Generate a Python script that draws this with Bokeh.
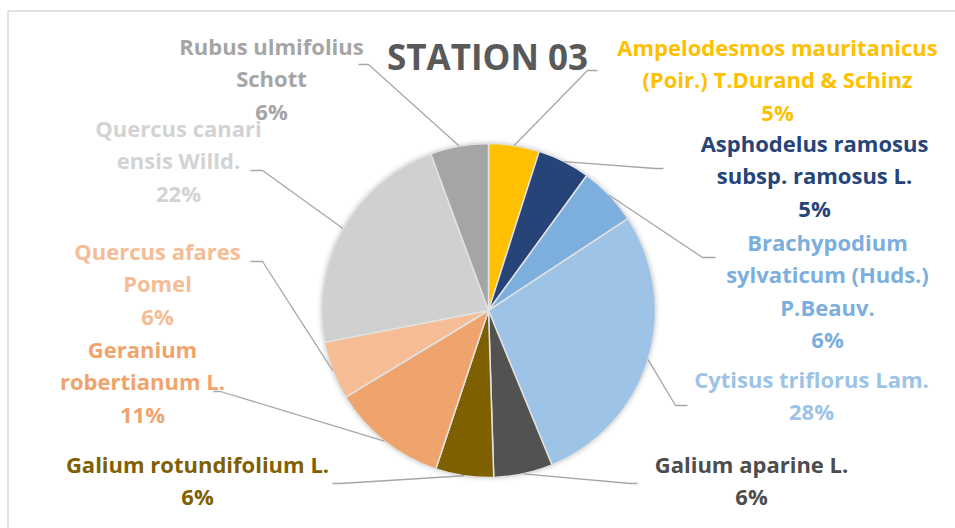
import numpy as np
from bokeh.plotting import figure
from bokeh.models import Range1d, ColumnDataSource
from bokeh.core.properties import value
from bokeh.embed import file_html
from bokeh.resources import INLINE

# ---- data ----
title_text = "STATION 03"
species = [
    "Ampelodesmos mauritanicus (Poir.) T.Durand & Schinz",
    "Asphodelus ramosus subsp. ramosus L.",
    "Brachypodium sylvaticum (Huds.) P.Beauv.",
    "Cytisus triflorus Lam.",
    "Galium aparine L.",
    "Galium rotundifolium L.",
    "Geranium robertianum L.",
    "Quercus afares Pomel",
    "Quercus canariensis Willd.",
    "Rubus ulmifolius Schott",
]
label_lines = [
    ["Ampelodesmos mauritanicus", "(Poir.) T.Durand & Schinz"],
    ["Asphodelus ramosus", "subsp. ramosus L."],
    ["Brachypodium", "sylvaticum (Huds.)", "P.Beauv."],
    ["Cytisus triflorus Lam."],
    ["Galium aparine L."],
    ["Galium rotundifolium L."],
    ["Geranium", "robertianum L."],
    ["Quercus afares", "Pomel"],
    ["Quercus canari", "ensis Willd."],
    ["Rubus ulmifolius", "Schott"],
]
values = [4.9, 5.1, 5.7, 28.0, 5.7, 5.6, 11.2, 5.6, 22.4, 5.6]

# ---- styles / layout ----
slice_colors = ["#FFC000", "#264478", "#7CAFDD", "#9DC3E6", "#525252",
                "#7F6000", "#F0A46D", "#F5BC95", "#D0D0D0", "#A5A5A5"]
label_colors = ["#FFC000", "#264478", "#7CAFDD", "#9DC3E6", "#4D4D4D",
                "#7F6000", "#F0A46D", "#F5BC95", "#D3D3D3", "#A5A5A5"]
# label anchor (center x, first baseline y) in screen px
label_pos = [(777, 56), (814, 152), (827, 251), (811, 388), (751, 473),
             (197, 473), (142, 358), (157, 260), (178, 137), (271, 55)]
TEXT_SHIFT = -10
TITLE_SHIFT = -13
# leader elbow and end (screen px)
leader_elbow = [(587, 70), (655, 168), (702, 257), (675, 405), (630, 483),
                (340, 483), (220, 391), (262, 261), (262, 170), (368, 64)]
leader_end = [(597, 70), (663, 168), (715, 257), (687, 405), (637, 483),
              (332, 483), (213, 391), (250, 261), (250, 170), (358, 64)]
LINE_SP = 32.5
CX, CY, R = 488, 310, 167
W, H = 955, 528

def Y(sy):
    return H - sy

p = figure(width=W, height=H, output_backend="svg", toolbar_location=None,
           x_range=Range1d(0, W), y_range=Range1d(0, H),
           min_border=0, outline_line_color=None)
p.axis.visible = False
p.grid.visible = False
p.background_fill_color = "white"
p.border_fill_color = "white"

# chart border
p.line([7.5, 7.5, 960], [Y(540), Y(10.5), Y(10.5)], line_color="#D9D9D9", line_width=1.5)

# pie shadow
for k, a in [(5, 0.03), (3.5, 0.05), (2, 0.07), (1, 0.09)]:
    p.circle(x=[CX], y=[Y(CY)], radius=R + k, fill_color="#808080",
             fill_alpha=a, line_color=None)

vals = np.array(values, dtype=float)
frac = vals / vals.sum()
cum_end = np.cumsum(frac)
cum_start = cum_end - frac
src = ColumnDataSource(dict(
    start=np.pi / 2 - 2 * np.pi * cum_start,
    end=np.pi / 2 - 2 * np.pi * cum_end,
    color=slice_colors,
))
p.wedge(x=CX, y=Y(CY), radius=R, start_angle="start", end_angle="end",
        direction="clock", fill_color="color", line_color="#E2E2E2",
        line_width=1.5, source=src)

# leader lines
mid = 2 * np.pi * (cum_start + frac / 2)
xs, ys = [], []
for i in range(len(values)):
    px = CX + R * np.sin(mid[i])
    py = CY - R * np.cos(mid[i])
    xs.append([px, leader_elbow[i][0], leader_end[i][0]])
    ys.append([Y(py), Y(leader_elbow[i][1]), Y(leader_end[i][1])])
p.multi_line(xs, ys, line_color="#A6A6A6", line_width=1.3)

# labels
tx, ty, tt, tc = [], [], [], []
for i in range(len(values)):
    lx, ly = label_pos[i]
    lines = label_lines[i] + [f"{round(frac[i] * 100):d}%"]
    for j, t in enumerate(lines):
        tx.append(lx)
        ty.append(Y(ly + j * LINE_SP + TEXT_SHIFT))
        tt.append(t)
        tc.append(label_colors[i])
p.text(x=tx, y=ty, text=tt, text_color=tc, text_align="center",
       text_baseline="alphabetic", text_font=value("Open Sans"),
       text_font_style="bold", text_font_size="22px")

# title
p.text(x=[487], y=[Y(69 + TITLE_SHIFT)], text=[title_text], text_color="#595959",
       text_align="center", text_baseline="alphabetic",
       text_font=value("Open Sans"), text_font_style="bold", text_font_size="35px")

open("out.html", "w").write(file_html(p, INLINE))
